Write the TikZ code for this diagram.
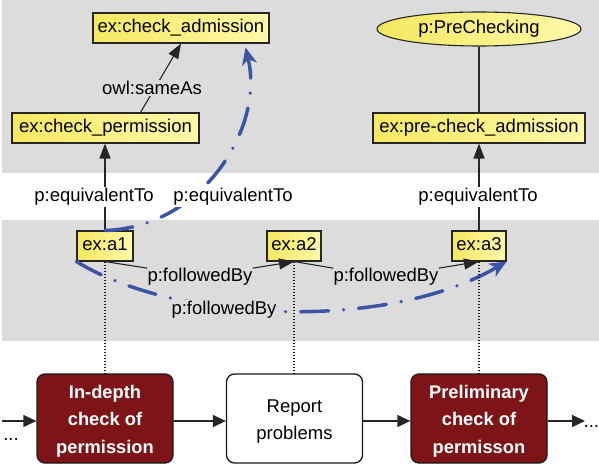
\documentclass[tikz,border=0pt]{standalone}
\usepackage{fontspec}
\setmainfont{Liberation Sans}
\usetikzlibrary{arrows.meta,shapes.geometric,calc}
\definecolor{bandgray}{RGB}{220,220,220}
\definecolor{yelA}{RGB}{245,232,95}
\definecolor{yelB}{RGB}{255,248,170}
\definecolor{darkred}{RGB}{125,20,24}
\definecolor{blueC}{RGB}{59,85,165}
\newcommand{\gfont}{\fontsize{18.5}{22}\selectfont}
\newcommand{\pfont}{\fontsize{18.3}{27.5}\selectfont\bfseries}
\newcommand{\rfont}{\fontsize{18.5}{27.5}\selectfont}
\begin{document}
\begin{tikzpicture}[x=1pt,y=-1pt,
  yb/.style={draw=black!85, line width=1.1pt, left color=yelA, right color=yelB,
    inner sep=0pt, minimum height=30, text height=13.5, text depth=4, font=\gfont},
  lab/.style={font=\gfont, inner sep=1.5pt},
  ln/.style={draw=black!85, line width=1.1pt},
  tip/.style={-{Triangle[length=15pt,width=11pt]}},
  ptip/.style={-{Triangle[length=13pt,width=12pt]}},
  proc/.style={draw=black!90, line width=1.3pt, rounded corners=8pt, minimum width=136,
    minimum height=89, inner sep=0pt},
  ptext/.style={align=center, inner sep=0pt, font=\pfont},
  dotln/.style={draw=black!90, line width=1.2pt, dash pattern=on 1.5pt off 1.5pt},
  bl/.style={draw=blueC, line width=3.5pt, line cap=round,
    dash pattern=on 28pt off 15pt on 0.1pt off 15pt,
    -{Stealth[length=17pt,width=15pt,inset=5pt]}}
]
\useasboundingbox (0,0) rectangle (599,465);
\fill[bandgray] (2,0) rectangle (599,173);
\fill[bandgray] (2,220) rectangle (599,341);

% ontology nodes
\node[yb, minimum width=176] (adm) at (181,28) {ex:check\_admission};
\node[yb, minimum width=187] (perm) at (105.5,128) {ex:check\_permission};
\node[yb, ellipse, minimum width=204, minimum height=34] (pc) at (479,29) {p:PreChecking};
\node[yb, minimum width=212] (pre) at (479,128) {ex:pre-check\_admission};
\node[yb, minimum width=56] (a1) at (105,246) {ex:a1};
\node[yb, minimum width=54] (a2) at (294,246) {ex:a2};
\node[yb, minimum width=54] (a3) at (479,246) {ex:a3};

% process boxes
\node[proc, fill=darkred] (b1) at (105,418.5) {};
\node[proc, fill=white] (b2) at (294.5,418.5) {};
\node[proc, fill=darkred] (b3) at (479,418.5) {};
\node[ptext, text=white] (b1t) at ($(b1)+(0,2.5)$) {In-depth\\check of\\permission};
\node[ptext, font=\rfont] (b2t) at ($(b2)+(0,3)$) {Report\\problems};
\node[ptext, text=white] (b3t) at ($(b3)+(0,2.5)$) {Preliminary\\check of\\permisson};

% black connectors
\draw[ln] (pc) -- (pre);
\draw[ln, tip] (a3.north) -- (pre.south);
\draw[ln, tip] (a1.north) -- (a1.north |- perm.south);
\draw[ln, tip] ($(perm.north)+(35,0)$) -- (adm.south);

% blue curves
\coordinate (bt) at ($(adm.south east)+(-24,4)$);
\draw[bl] (a1.north) .. controls (200,228) and (265,130) .. (bt);
\draw[bl] (a1.south west) .. controls (180,325) and (390,330) .. (a3.south east);

% labels
\node[lab, fill=bandgray] (sa) at (152,88) {owl:sameAs};
\node[lab, fill=white] (eq1) at (94,197) {p:equivalentTo};
\node[lab, fill=white] (eq2) at (233,197) {p:equivalentTo};
\node[lab, fill=white] (eq3) at (478,197) {p:equivalentTo};
\node[lab, fill=bandgray] (fb3) at (224,310) {p:followedBy};
\node[lab, inner sep=0pt] (fb1) at (200,277) {p:followedBy};
\node[lab, inner sep=0pt] (fb2) at (386,277) {p:followedBy};
\draw[ln] (a1.south) -- (fb1.north west);
\draw[ln, tip] (fb1.north east) -- (a2.south);
\draw[ln] (a2.south) -- (fb2.north west);
\draw[ln, tip] (fb2.north east) -- (a3.south);

% dotted links
\draw[dotln] (a1.south) -- (b1.north);
\draw[dotln] (a2.south) -- (a2.south |- b2.north);
\draw[dotln] (a3.south) -- (b3.north);

% process arrows
\coordinate (L) at (2,421);
\coordinate (R) at (585,421);
\draw[ln, line width=1.3pt, ptip] (L) -- (L -| b1.west);
\draw[ln, line width=1.3pt, ptip] (L -| b1.east) -- (L -| b2.west);
\draw[ln, line width=1.3pt, ptip] (L -| b2.east) -- (L -| b3.west);
\draw[ln, line width=1.3pt, ptip] (R -| b3.east) -- (R);
\node[lab, inner sep=0pt] (dl) at (11,440) {...};
\node[lab, inner sep=0pt, anchor=west] (dr) at (583.5,427) {...};
\end{tikzpicture}
\end{document}
